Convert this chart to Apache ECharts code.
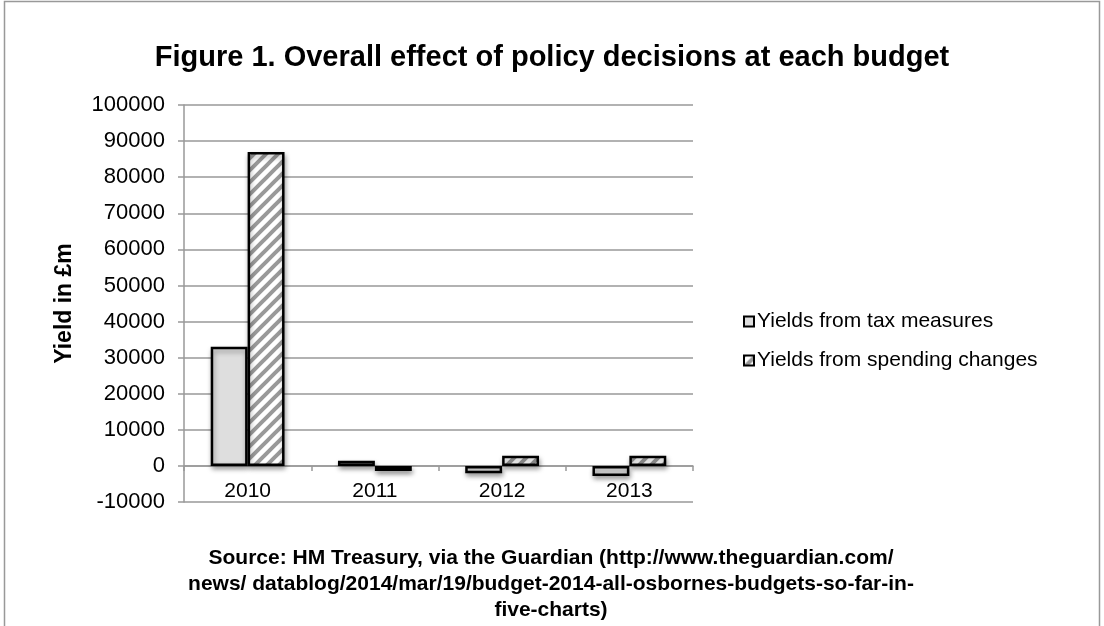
<!DOCTYPE html>
<html>
<head>
<meta charset="utf-8">
<style>
  html, body { margin: 0; padding: 0; background: #ffffff; }
  #chart { width: 1104px; height: 626px; }
</style>
<script src="https://cdn.jsdelivr.net/npm/echarts@6/dist/echarts.min.js"></script>
</head>
<body>
<div id="chart"></div>
<script>
// ---- data ----
var categories = ['2010', '2011', '2012', '2013'];
var taxYields = [33000, 1400, -2000, -2800];
var spendingYields = [87000, -1400, 2800, 2800];
var seriesNames = ['Yields from tax measures', 'Yields from spending changes'];
var titleText = 'Figure 1. Overall effect of policy decisions at each budget';
var yAxisTitle = 'Yield in £m';
var sourceLines = [
  'Source: HM Treasury, via the Guardian (http://www.theguardian.com/',
  'news/ datablog/2014/mar/19/budget-2014-all-osbornes-budgets-so-far-in-',
  'five-charts)'
];

// ---- stripe pattern ----
function makeStripes() {
  var s = 12;
  var c = document.createElement('canvas');
  c.width = s; c.height = s;
  var g = c.getContext('2d');
  g.fillStyle = '#ffffff';
  g.fillRect(0, 0, s, s);
  g.strokeStyle = '#999999';
  g.lineWidth = 4;
  g.lineCap = 'square';
  [[-s, s, s, -s], [0, s, s, 0], [0, 2 * s, 2 * s, 0]].forEach(function (l) {
    g.beginPath(); g.moveTo(l[0], l[1]); g.lineTo(l[2], l[3]); g.stroke();
  });
  return c;
}
var stripes = makeStripes();

var FONT = 'Liberation Sans, Arial, sans-serif';
var chart = echarts.init(document.getElementById('chart'), null, { renderer: 'canvas' });

var shadow = { shadowColor: 'rgba(0,0,0,0.35)', shadowBlur: 5, shadowOffsetY: 3, shadowOffsetX: 1 };

chart.setOption({
  backgroundColor: '#ffffff',
  animation: false,
  title: {
    text: titleText,
    left: 'center',
    top: 38,
    textStyle: { fontFamily: FONT, fontSize: 29, fontWeight: 'bold', color: '#000' }
  },
  legend: {
    orient: 'vertical',
    left: 738,
    top: 306,
    itemWidth: 10,
    itemHeight: 10,
    itemGap: 18,
    icon: 'rect',
    data: seriesNames,
    textStyle: { fontFamily: FONT, fontSize: 21, color: '#000', padding: [0, 0, 0, -2] }
  },
  grid: { left: 184, right: 411, top: 105, bottom: 124, containLabel: false },
  xAxis: {
    type: 'category',
    data: categories,
    axisLine: { onZero: true, lineStyle: { color: '#999999', width: 1.5 } },
    axisTick: { show: true, alignWithLabel: false, length: 5, lineStyle: { color: '#999999', width: 1.5 } },
    axisLabel: { fontFamily: FONT, fontSize: 21, color: '#000', margin: -21 }
  },
  yAxis: {
    type: 'value',
    min: -10000,
    max: 100000,
    interval: 10000,
    name: yAxisTitle,
    nameLocation: 'middle',
    nameGap: 108,
    nameTextStyle: { fontFamily: FONT, fontSize: 23, fontWeight: 'bold', color: '#000' },
    axisLine: { show: true, lineStyle: { color: '#999999', width: 1.5 } },
    axisTick: { show: true, inside: false, length: 6, lineStyle: { color: '#999999', width: 1.5 } },
    axisLabel: {
      fontFamily: FONT, fontSize: 22, color: '#000', margin: 19,
      formatter: function (v) { return String(v); }
    },
    splitLine: { show: true, lineStyle: { color: '#999999', width: 1.5 } }
  },
  series: [
    {
      name: seriesNames[0],
      type: 'bar',
      data: taxYields,
      barGap: '0%',
      barCategoryGap: '42%',
      itemStyle: Object.assign({ color: '#dedede', borderColor: '#000', borderWidth: 2.5 }, shadow)
    },
    {
      name: seriesNames[1],
      type: 'bar',
      data: spendingYields,
      itemStyle: Object.assign({ color: { image: stripes, repeat: 'repeat' }, borderColor: '#000', borderWidth: 2.5 }, shadow)
    }
  ],
  graphic: [
    {
      type: 'rect',
      shape: { x: 4.5, y: 1.5, width: 1095, height: 700 },
      style: { fill: 'none', stroke: '#999999', lineWidth: 1.5 },
      silent: true
    },
    {
      type: 'text',
      x: 551,
      y: 545,
      style: {
        text: sourceLines.join('\n'),
        fontFamily: FONT,
        fontSize: 21,
        fontWeight: 'bold',
        fill: '#000',
        align: 'center',
        lineHeight: 26
      }
    }
  ]
});
</script>
</body>
</html>
